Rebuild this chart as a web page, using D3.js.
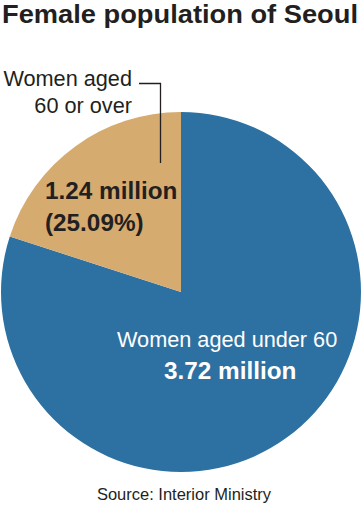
<!DOCTYPE html>
<html>
<head>
<meta charset="utf-8">
<script src="https://cdn.jsdelivr.net/npm/d3@7"></script>
<style>
  body { margin: 0; background: #fff; }
  svg { display: block; font-family: "Liberation Sans", Arial, sans-serif; }
</style>
</head>
<body>
<div id="chart"></div>
<script>
// data
const groups = ["Women aged under 60", "Women aged 60 or over"];
const millions = [3.72, 1.24];
const shareLabel = ["", "25.09%"];
// slice sizes as drawn in the picture (%)
const drawnShare = [80, 20];
const colors = ["#2d71a2", "#d5ab70"];

var svgWidth = 362;
var svgHeight = 506;
var ink = "#231f20";

var svg = d3.select("#chart")
  .append("svg")
  .attr("width", svgWidth)
  .attr("height", svgHeight);

// title
svg.append("text")
  .attr("x", 2)
  .attr("y", 23)
  .attr("font-size", 26)
  .attr("font-weight", "bold")
  .attr("fill", ink)
  .attr("textLength", 356)
  .attr("lengthAdjust", "spacingAndGlyphs")
  .text("Female population of Seoul");

// pie
var cx = 181, cy = 292, radius = 180;
var pie = d3.pie().sort(null).value(d => d);
var arc = d3.arc().innerRadius(0).outerRadius(radius);

var pieGroup = svg.append("g")
  .attr("transform", `translate(${cx}, ${cy})`);

pieGroup.selectAll("path")
  .data(pie(drawnShare))
  .enter()
  .append("path")
  .attr("d", arc)
  .attr("fill", (d, i) => colors[i]);

// label for over-60 slice (outside, with leader)
var lab = svg.append("g").attr("fill", ink).attr("font-size", 21.7);
lab.append("text")
  .attr("x", 132).attr("y", 86)
  .attr("text-anchor", "end")
  .text("Women aged");
lab.append("text")
  .attr("x", 132).attr("y", 113)
  .attr("text-anchor", "end")
  .text(groups[1].replace("Women aged ", ""));

svg.append("path")
  .attr("d", "M139,83.5H160.5V163")
  .attr("fill", "none")
  .attr("stroke", ink)
  .attr("stroke-width", 1.3);

svg.append("text")
  .attr("x", 45).attr("y", 199)
  .attr("font-size", 24.3).attr("font-weight", "bold").attr("fill", ink)
  .text(d3.format(".2f")(millions[1]) + " million");
svg.append("text")
  .attr("x", 45).attr("y", 231)
  .attr("font-size", 24.3).attr("font-weight", "bold").attr("fill", ink)
  .text("(" + shareLabel[1] + ")");

// label for under-60 slice
svg.append("text")
  .attr("x", 117).attr("y", 347)
  .attr("font-size", 21.7).attr("fill", "#fff")
  .text(groups[0]);
svg.append("text")
  .attr("x", 164).attr("y", 379)
  .attr("font-size", 24.3).attr("font-weight", "bold").attr("fill", "#fff")
  .text(d3.format(".2f")(millions[0]) + " million");

// source
svg.append("text")
  .attr("x", 184).attr("y", 500)
  .attr("text-anchor", "middle")
  .attr("font-size", 16.5).attr("fill", ink)
  .text("Source: Interior Ministry");
</script>
</body>
</html>
